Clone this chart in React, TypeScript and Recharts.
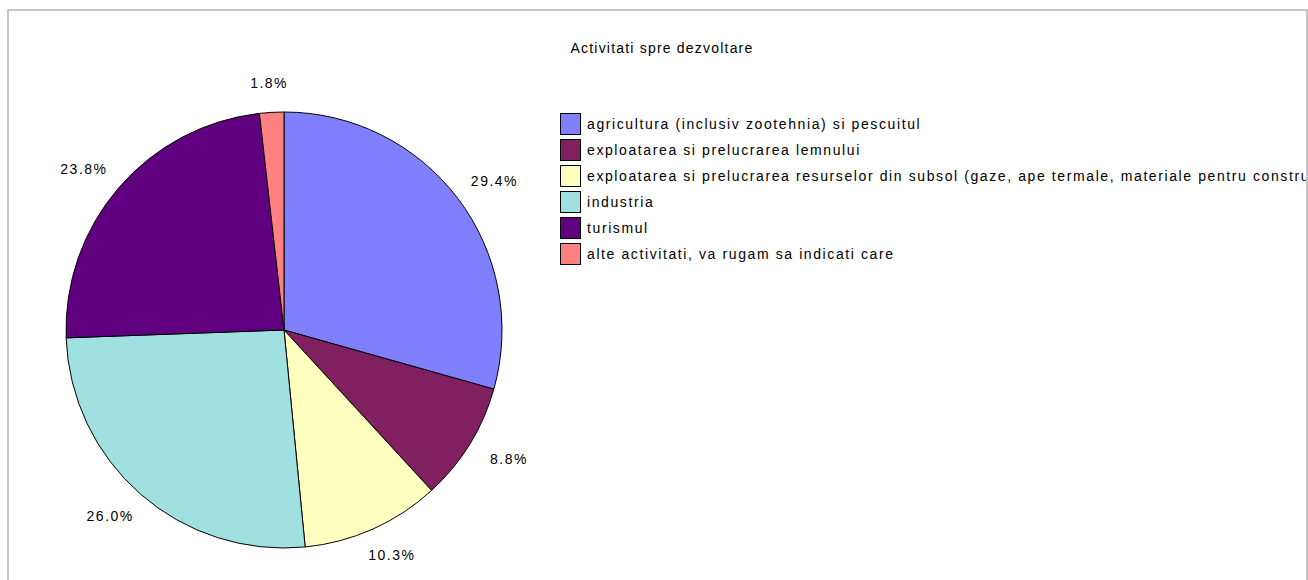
import React from "react";
import { PieChart, Pie, Cell } from "recharts";

const categories = [
  "agricultura (inclusiv zootehnia) si pescuitul",
  "exploatarea si prelucrarea lemnului",
  "exploatarea si prelucrarea resurselor din subsol (gaze, ape termale, materiale pentru constructii)",
  "industria",
  "turismul",
  "alte activitati, va rugam sa indicati care",
];
const shares = [29.4, 8.8, 10.3, 26.0, 23.8, 1.8];
const colors = ["#8080ff", "#802060", "#ffffc0", "#a0e0e0", "#600080", "#ff8080"];

const data = categories.map((name, i) => ({ name, value: shares[i] }));

const FONT = "'Liberation Sans', Arial, sans-serif";
const RAD = Math.PI / 180;

// label placed just outside the rim, pushed out by half its box
const renderLabel = (props: any) => {
  const { cx, cy, midAngle, outerRadius, value } = props;
  const cos = Math.cos(-midAngle * RAD);
  const sin = Math.sin(-midAngle * RAD);
  const r = outerRadius + 22;
  const x = cx + r * cos + 24 * cos;
  const y = cy + r * sin + 7 * sin;
  return (
    <text
      x={x}
      y={y}
      textAnchor="middle"
      dominantBaseline="central"
      fill="#000"
      fontSize={14}
      fontFamily={FONT}
      letterSpacing={1.5}
    >
      {value.toFixed(1)}%
    </text>
  );
};

export default function App() {
  return (
    <div
      style={{
        position: "absolute",
        left: 0,
        top: 0,
        width: 1308,
        height: 580,
        background: "#fff",
        overflow: "hidden",
      }}
    >
      <div
        style={{
          position: "absolute",
          left: 7,
          top: 9,
          width: 1297,
          height: 600,
          border: "2px solid #c4c4c4",
          overflow: "hidden",
        }}
      >
        <div
          style={{
            position: "absolute",
            left: 0,
            top: 29,
            width: 1306,
            textAlign: "center",
            fontFamily: FONT,
            fontSize: 14,
            letterSpacing: 1.2,
          }}
        >
          Activitati spre dezvoltare
        </div>
        <PieChart
          width={1297}
          height={580}
          margin={{ top: 0, right: 0, bottom: 0, left: 0 }}
          style={{ position: "absolute", left: -9, top: -11 }}
        >
          <Pie
            data={data}
            dataKey="value"
            nameKey="name"
            cx={284}
            cy={330}
            outerRadius={218}
            startAngle={90}
            endAngle={-270}
            stroke="#000"
            strokeWidth={1}
            label={renderLabel}
            labelLine={false}
            isAnimationActive={false}
          >
            {data.map((d, i) => (
              <Cell key={d.name} fill={colors[i]} />
            ))}
          </Pie>
        </PieChart>
        <div
          style={{
            position: "absolute",
            left: 551,
            top: 100,
            fontFamily: FONT,
            fontSize: 14,
            letterSpacing: 1.6,
            whiteSpace: "nowrap",
          }}
        >
          {data.map((d, i) => (
            <div key={d.name} style={{ display: "flex", alignItems: "center", height: 26 }}>
              <span
                style={{
                  width: 19,
                  height: 20,
                  background: colors[i],
                  border: "1px solid #000",
                  marginRight: 6,
                  flex: "none",
                }}
              />
              <span>{d.name}</span>
            </div>
          ))}
        </div>
      </div>
    </div>
  );
}
